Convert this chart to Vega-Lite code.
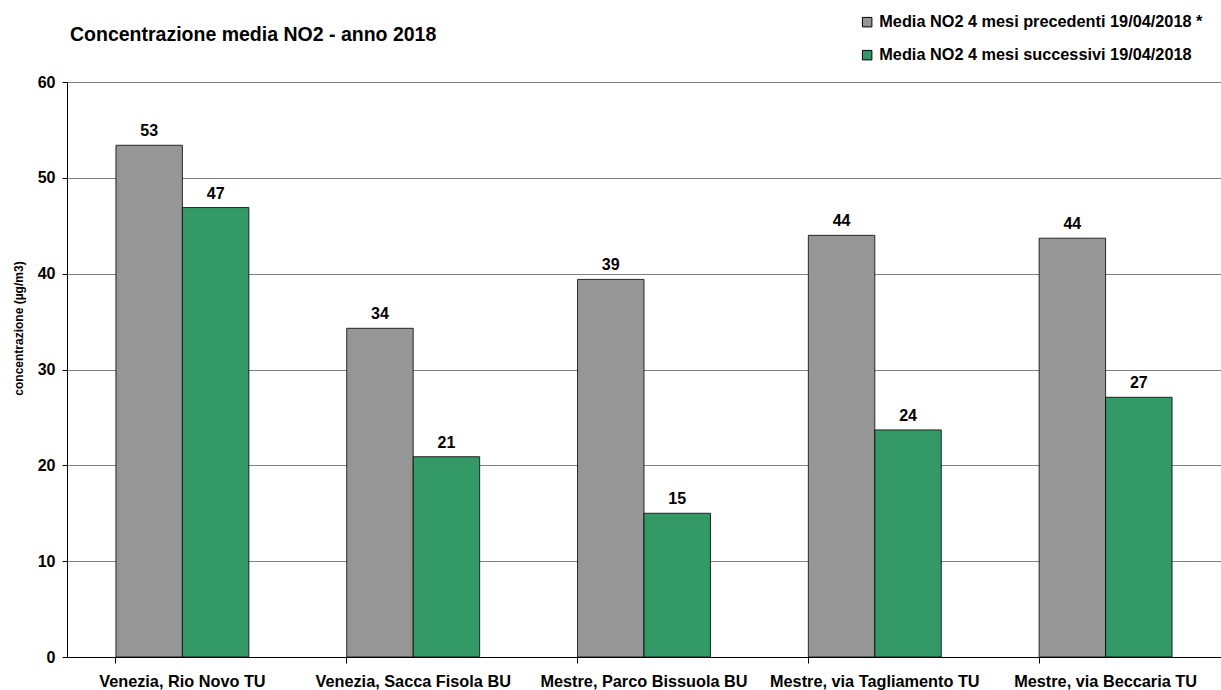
{
  "$schema": "https://vega.github.io/schema/vega-lite/v6.json",
  "width": 1154,
  "height": 575,
  "autosize": {"type": "none"},
  "padding": {"left": 67, "top": 82, "right": 0, "bottom": 33},
  "background": "white",
  "config": {"font": "Liberation Sans", "view": {"stroke": null}},
  "title": {"text": "Concentrazione media NO2 - anno 2018", "anchor": "start", "frame": "group", "fontSize": 19.5, "fontWeight": "bold", "color": "black", "offset": 0, "dx": 3, "dy": 31},
  "data": {"values": [
    {"station": "Venezia, Rio Novo TU", "series": "Media NO2 4 mesi precedenti 19/04/2018 *", "value": 53.4},
    {"station": "Venezia, Rio Novo TU", "series": "Media NO2 4 mesi successivi 19/04/2018", "value": 46.9},
    {"station": "Venezia, Sacca Fisola  BU", "series": "Media NO2 4 mesi precedenti 19/04/2018 *", "value": 34.3},
    {"station": "Venezia, Sacca Fisola  BU", "series": "Media NO2 4 mesi successivi 19/04/2018", "value": 20.9},
    {"station": "Mestre, Parco Bissuola BU", "series": "Media NO2 4 mesi precedenti 19/04/2018 *", "value": 39.4},
    {"station": "Mestre, Parco Bissuola BU", "series": "Media NO2 4 mesi successivi 19/04/2018", "value": 15.0},
    {"station": "Mestre, via Tagliamento TU", "series": "Media NO2 4 mesi precedenti 19/04/2018 *", "value": 44.0},
    {"station": "Mestre, via Tagliamento TU", "series": "Media NO2 4 mesi successivi 19/04/2018", "value": 23.7},
    {"station": "Mestre, via Beccaria TU", "series": "Media NO2 4 mesi precedenti 19/04/2018 *", "value": 43.7},
    {"station": "Mestre, via Beccaria TU", "series": "Media NO2 4 mesi successivi 19/04/2018", "value": 27.1}
  ]},
  "encoding": {
    "x": {"field": "station", "type": "nominal", "sort": null,
      "scale": {"paddingInner": 0.424, "paddingOuter": 0.212},
      "axis": {"title": null, "labelAngle": 0, "labelFontSize": 16.3, "labelFontWeight": "bold", "labelColor": "black",
        "domainColor": "black", "tickColor": "black", "ticks": true, "tickSize": 6, "bandPosition": 0, "labelPadding": 10, "labelLimit": 0}},
    "xOffset": {"field": "series", "type": "nominal", "sort": null, "scale": {"paddingInner": 0, "paddingOuter": 0}},
    "y": {"field": "value", "type": "quantitative",
      "scale": {"domain": [0, 60], "nice": false},
      "axis": {"title": "concentrazione (µg/m3)", "titleFontSize": 12, "titleFontWeight": "bold", "titleColor": "black", "titlePadding": 12, "titleY": 246,
        "values": [0, 10, 20, 30, 40, 50, 60], "labelFontSize": 16, "labelFontWeight": "bold", "labelColor": "black", "labelPadding": 7,
        "domainColor": "black", "tickColor": "black", "tickSize": 5, "grid": true, "gridColor": "#808080", "gridOpacity": 1}}
  },
  "layer": [
    {"mark": {"type": "bar", "stroke": "black", "strokeWidth": 0.8},
     "encoding": {
       "color": {"field": "series", "type": "nominal", "sort": null,
         "scale": {"domain": ["Media NO2 4 mesi precedenti 19/04/2018 *", "Media NO2 4 mesi successivi 19/04/2018"], "range": ["#969696", "#339966"]},
         "legend": {"title": null, "orient": "none", "legendX": 792, "legendY": -68, "symbolType": "square", "symbolSize": 90,
           "symbolStrokeColor": "black", "symbolStrokeWidth": 1, "labelFontSize": 16.3, "labelFontWeight": "bold", "labelColor": "black",
           "rowPadding": 16, "labelLimit": 0, "labelOffset": 4}}
     }},
    {"mark": {"type": "text", "dy": -14, "fontSize": 16, "fontWeight": "bold", "color": "black"},
     "encoding": {"text": {"field": "value", "type": "quantitative", "format": ".0f"}}}
  ]
}
